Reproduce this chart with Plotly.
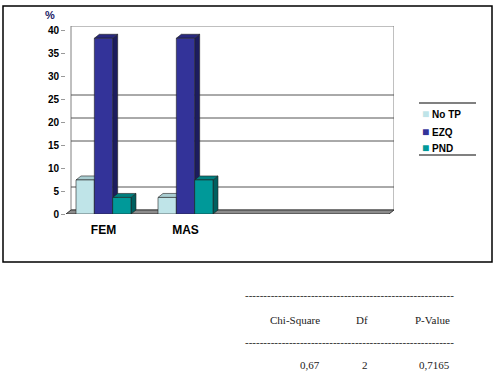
import plotly.graph_objects as go

# ---- data ----
categories = ["FEM", "MAS"]
series_names = ["No TP", "EZQ", "PND"]
no_tp = [7.4, 3.6]
ezq = [38.2, 38.2]
pnd = [3.6, 7.4]
series_values = [no_tp, ezq, pnd]
y_ticks = [0, 5, 10, 15, 20, 25, 30, 35, 40]
wall_grid = [5, 15, 20, 25]
stat_labels = ["Chi-Square", "Df", "P-Value"]
stat_values = ["0,67", "2", "0,7165"]

# ---- styles ----
front_cols = ["#BFE4E8", "#333399", "#009999"]
side_cols = ["#8AAEB2", "#1C1C5E", "#005F5F"]
top_cols = ["#A9CDD1", "#28287F", "#007F7F"]

W, H = 500, 379
# pixel layout
px_left, px_right = 66, 394
px_zero, px_top = 214, 26
cat_px = 82.0          # pixels per category unit
unit_px = 4.6          # pixels per y unit
depth_x, depth_y = 5, 4  # 3D depth in px

x_lo = -(103.5 - px_left) / cat_px
x_hi = x_lo + (px_right - px_left) / cat_px
y_hi = (px_zero - px_top) / unit_px
dxd = depth_x / cat_px
dyd = depth_y / unit_px
x_front_hi = x_hi - dxd
bw = 18.33 / cat_px

fig = go.Figure()
shapes = []

# back wall
shapes.append(dict(type="rect", xref="x", yref="y", x0=x_lo + dxd, x1=x_hi, y0=dyd, y1=y_hi,
                   line=dict(color="#808080", width=1), fillcolor="white", layer="below"))
# wall gridlines
for g in wall_grid:
    shapes.append(dict(type="line", xref="x", yref="y", x0=x_lo + dxd, x1=x_hi, y0=g + dyd, y1=g + dyd,
                       line=dict(color="#555555", width=1), layer="below"))
# floor
shapes.append(dict(type="path", xref="x", yref="y",
                   path=f"M{x_lo},0 L{x_front_hi},0 L{x_hi},{dyd} L{x_lo + dxd},{dyd} Z",
                   fillcolor="#8C8C8C", line=dict(color="#333333", width=1), layer="below"))

for i, (name, vals) in enumerate(zip(series_names, series_values)):
    off = -1.5 * bw + i * bw
    fig.add_trace(go.Bar(x=list(range(len(categories))), y=vals, width=bw, offset=off, name=name,
                         marker=dict(color=front_cols[i], line=dict(color="#222222", width=0.6)),
                         showlegend=False, hoverinfo="skip"))
    for c, v in enumerate(vals):
        xl = c + off
        xr = xl + bw
        shapes.append(dict(type="path", xref="x", yref="y",
                           path=f"M{xr},0 L{xr + dxd},{dyd} L{xr + dxd},{v + dyd} L{xr},{v} Z",
                           fillcolor=side_cols[i], line=dict(color="#222222", width=0.6), layer="below"))
        shapes.append(dict(type="path", xref="x", yref="y",
                           path=f"M{xl},{v} L{xl + dxd},{v + dyd} L{xr + dxd},{v + dyd} L{xr},{v} Z",
                           fillcolor=top_cols[i], line=dict(color="#222222", width=0.6), layer="below"))

# outer chart border
shapes.append(dict(type="rect", xref="paper", yref="paper", x0=3 / W, x1=492 / W,
                   y0=1 - 262 / H, y1=1 - 6 / H, line=dict(color="black", width=1.5)))
# legend top/bottom lines
for ly in (103, 155):
    shapes.append(dict(type="line", xref="paper", yref="paper", x0=419 / W, x1=476 / W,
                       y0=1 - ly / H, y1=1 - ly / H, line=dict(color="#808080", width=2)))

annotations = []
# % label
annotations.append(dict(text="<b>%</b>", x=43 / W, y=1 - 15 / H, xref="paper", yref="paper",
                        xanchor="left", yanchor="middle", showarrow=False,
                        font=dict(family="Liberation Sans, Arial", size=11, color="#1a1a66")))
# legend entries
for i, (name, ly) in enumerate(zip(series_names, (114, 132, 148))):
    annotations.append(dict(text=f"<span style='color:{front_cols[i]};font-size:12px'>■</span> <b>{name}</b>",
                            x=420 / W, y=1 - ly / H, xref="paper", yref="paper",
                            xanchor="left", yanchor="middle", showarrow=False,
                            font=dict(family="Liberation Sans, Arial", size=10, color="black")))

# statistics table
mono = dict(family="Liberation Serif, Times New Roman", size=11, color="#222222")
dash_line = "-" * 57
for dy in (295, 342):
    annotations.append(dict(text=dash_line, x=243 / W, y=1 - dy / H, xref="paper", yref="paper",
                            xanchor="left", yanchor="middle", showarrow=False, font=mono))
col_right = [322, 370, 452]
for lab, val, xr in zip(stat_labels, stat_values, col_right):
    annotations.append(dict(text=lab, x=xr / W, y=1 - 320 / H, xref="paper", yref="paper",
                            xanchor="right", yanchor="middle", showarrow=False, font=mono))
    annotations.append(dict(text=val, x=xr / W, y=1 - 365 / H, xref="paper", yref="paper",
                            xanchor="right", yanchor="middle", showarrow=False, font=mono))

fig.update_layout(
    width=W, height=H, autosize=False, margin=dict(l=0, r=0, t=0, b=0),
    paper_bgcolor="white", plot_bgcolor="rgba(0,0,0,0)",
    barmode="overlay", showlegend=False,
    shapes=shapes, annotations=annotations,
    xaxis=dict(domain=[px_left / W, px_right / W], range=[x_lo, x_hi], automargin=False,
               tickvals=list(range(len(categories))), ticktext=[f"<b>{c}</b>" for c in categories],
               showgrid=False, zeroline=False, showline=False, ticks="", ticklabelstandoff=7,
               tickfont=dict(family="Liberation Sans, Arial", size=12, color="black")),
    yaxis=dict(domain=[1 - px_zero / H, 1 - px_top / H], range=[0, y_hi], automargin=False,
               tickvals=y_ticks, ticktext=[f"<b>{t}</b>" for t in y_ticks],
               showgrid=False, zeroline=False, showline=False,
               ticks="outside", ticklen=4, tickcolor="#999999",
               tickfont=dict(family="Liberation Sans, Arial", size=10, color="black")),
)

fig.write_html("out.html", config={"displayModeBar": False, "responsive": False},
               post_script="document.body.style.margin='0';document.body.style.overflow='hidden';")
